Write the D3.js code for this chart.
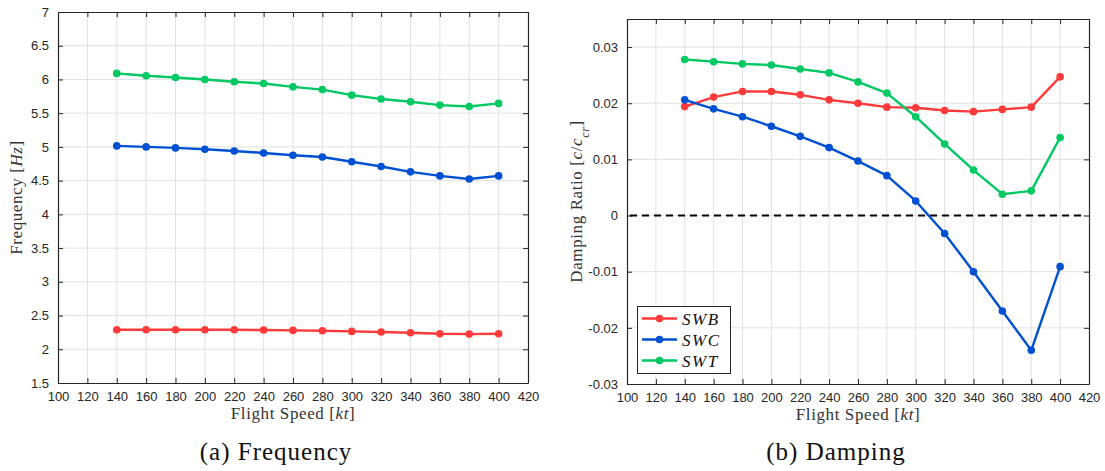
<!DOCTYPE html>
<html><head><meta charset="utf-8">
<script src="https://cdn.jsdelivr.net/npm/d3@7"></script>
<style>body{margin:0;background:#fff}svg{display:block}</style>
</head><body>
<svg id="c" width="1105" height="471"></svg>
<script>
const speeds = [140,160,180,200,220,240,260,280,300,320,340,360,380,400];
const freqSWB = [2.29,2.29,2.29,2.29,2.29,2.285,2.28,2.275,2.265,2.255,2.245,2.23,2.225,2.23];
const freqSWC = [5.015,5.0,4.985,4.965,4.94,4.91,4.877,4.85,4.78,4.71,4.63,4.57,4.525,4.57];
const freqSWT = [6.09,6.055,6.03,6.0,5.965,5.94,5.89,5.85,5.767,5.71,5.67,5.62,5.60,5.645];
const dampSWB = [0.0194,0.0211,0.0221,0.0221,0.0215,0.0206,0.0200,0.0193,0.0192,0.0187,0.0185,0.0189,0.0193,0.0247];
const dampSWC = [0.0206,0.0190,0.0176,0.0159,0.0141,0.0121,0.0097,0.0071,0.0026,-0.0032,-0.0100,-0.0170,-0.0240,-0.0091];
const dampSWT = [0.0278,0.0274,0.0270,0.0268,0.0261,0.0254,0.0238,0.0218,0.0176,0.01275,0.0081,0.0038,0.0044,0.0139];
const seriesNames = ["SWB","SWC","SWT"];
const xTicks = [100,120,140,160,180,200,220,240,260,280,300,320,340,360,380,400,420];
const freqTicks = [1.5,2,2.5,3,3.5,4,4.5,5,5.5,6,6.5,7];
const dampTicks = [-0.03,-0.02,-0.01,0,0.01,0.02,0.03];
const dampTickLabels = ["-0.03","-0.02","-0.01","0","0.01","0.02","0.03"];
const colors = ["#ff3a3a","#0050d2","#00c862"];

const svg = d3.select("#c");
const axisColor = "#262626";
const gridColor = "#e1e1e1";
const serif = "'Liberation Serif','Times New Roman',serif";
const sans = "'Liberation Sans',Arial,Helvetica,sans-serif";

function panel(cfg){
  const g = svg.append("g");
  const x = d3.scaleLinear().domain([100,420]).range([cfg.left, cfg.right]);
  const y = d3.scaleLinear().domain(cfg.ydom).range([cfg.bottom, cfg.top]);
  g.append("g").selectAll("line").data(xTicks.slice(1,-1)).join("line")
    .attr("x1",d=>x(d)).attr("x2",d=>x(d)).attr("y1",cfg.top).attr("y2",cfg.bottom)
    .attr("stroke",gridColor).attr("stroke-width",1);
  g.append("g").selectAll("line").data(cfg.yticks.filter(t=>t>cfg.ydom[0]&&t<cfg.ydom[1])).join("line")
    .attr("x1",cfg.left).attr("x2",cfg.right).attr("y1",d=>y(d)).attr("y2",d=>y(d))
    .attr("stroke",gridColor).attr("stroke-width",1);
  const xb = d3.axisBottom(x).tickValues(xTicks).tickSizeInner(-5).tickSizeOuter(0).tickPadding(9);
  const xt = d3.axisTop(x).tickValues(xTicks).tickSizeInner(-5).tickSizeOuter(0).tickFormat("");
  const yl = d3.axisLeft(y).tickValues(cfg.yticks).tickSizeInner(-5).tickSizeOuter(0).tickPadding(9)
    .tickFormat((d,i)=>cfg.ylabels[i]);
  const yr = d3.axisRight(y).tickValues(cfg.yticks).tickSizeInner(-5).tickSizeOuter(0).tickFormat("");
  const style = s => { s.select(".domain").attr("stroke",axisColor).attr("stroke-width",1.2);
    s.selectAll(".tick line").attr("stroke",axisColor).attr("stroke-width",1);
    s.selectAll(".tick text").attr("fill",axisColor).style("font-family",sans).style("font-size","13px"); };
  g.append("g").attr("transform",`translate(0,${cfg.bottom})`).call(xb).call(style);
  g.append("g").attr("transform",`translate(0,${cfg.top})`).call(xt).call(style);
  g.append("g").attr("transform",`translate(${cfg.left},0)`).call(yl).call(style);
  g.append("g").attr("transform",`translate(${cfg.right},0)`).call(yr).call(style);
  if (cfg.zero){
    g.append("line").attr("x1",cfg.left+3).attr("x2",cfg.right-3).attr("y1",y(0)).attr("y2",y(0))
      .attr("stroke","#000").attr("stroke-width",2).attr("stroke-dasharray","7,5");
  }
  const line = d3.line().x((d,i)=>x(speeds[i])).y(d=>y(d));
  cfg.data.forEach((vals,k)=>{
    g.append("path").datum(vals).attr("d",line).attr("fill","none")
      .attr("stroke",colors[k]).attr("stroke-width",2.4).attr("stroke-linejoin","round");
    g.append("g").selectAll("circle").data(vals).join("circle")
      .attr("cx",(d,i)=>x(speeds[i])).attr("cy",d=>y(d)).attr("r",3.8).attr("fill",colors[k]);
  });
  const xl = g.append("text").attr("x",(cfg.left+cfg.right)/2).attr("y",cfg.bottom+36)
    .attr("text-anchor","middle").style("font-family",serif).style("font-size","17px")
    .style("letter-spacing","0.6px").attr("fill","#333");
  xl.append("tspan").text("Flight Speed [");
  xl.append("tspan").text("kt").style("font-style","italic");
  xl.append("tspan").text("]");
  const ylab = g.append("text").attr("transform",`translate(${cfg.ylabX},${(cfg.top+cfg.bottom)/2}) rotate(-90)`)
    .attr("text-anchor","middle").style("font-family",serif).style("font-size","17px")
    .style("letter-spacing","0.6px").attr("fill","#333");
  cfg.ylabParts.forEach(p=>{
    const t = ylab.append("tspan").text(p.t);
    if (p.i) t.style("font-style","italic");
    if (p.sub) t.attr("baseline-shift","sub").style("font-size","12px").style("font-style","italic");
  });
  svg.append("text").attr("x",cfg.capX).attr("y",460).attr("text-anchor","middle")
    .style("font-family",serif).style("font-size","25px").style("letter-spacing","1px")
    .attr("fill","#111").text(cfg.caption);
  return {x,y,g};
}

panel({left:58,right:528,top:12,bottom:383,ydom:[1.5,7],yticks:freqTicks,
  ylabels:freqTicks.map(d=>String(d)),data:[freqSWB,freqSWC,freqSWT],
  ylabX:22,ylabParts:[{t:"Frequency ["},{t:"Hz",i:true},{t:"]"}],caption:"(a) Frequency",capX:276});

panel({left:627,right:1089,top:19,bottom:384,ydom:[-0.03,0.035],yticks:dampTicks,
  ylabels:dampTickLabels,data:[dampSWB,dampSWC,dampSWT],zero:true,
  ylabX:582,ylabParts:[{t:"Damping Ratio ["},{t:"c",i:true},{t:"/"},{t:"c",i:true},{t:"cr",sub:true},{t:"]"}],caption:"(b) Damping",capX:836});

const lg = svg.append("g");
lg.append("rect").attr("x",637.5).attr("y",306.5).attr("width",93).attr("height",67)
  .attr("fill","#fff").attr("stroke","#262626").attr("stroke-width",1);
seriesNames.forEach((n,k)=>{
  const yy = 318.5 + k*21;
  lg.append("line").attr("x1",642).attr("x2",677).attr("y1",yy).attr("y2",yy)
    .attr("stroke",colors[k]).attr("stroke-width",2.4);
  lg.append("circle").attr("cx",659.5).attr("cy",yy).attr("r",3.8).attr("fill",colors[k]);
  lg.append("text").attr("x",682).attr("y",yy+6).style("font-family",serif).style("font-style","italic")
    .style("font-size","17px").style("letter-spacing","1.5px").attr("fill","#111").text(n);
});
</script>
</body></html>
